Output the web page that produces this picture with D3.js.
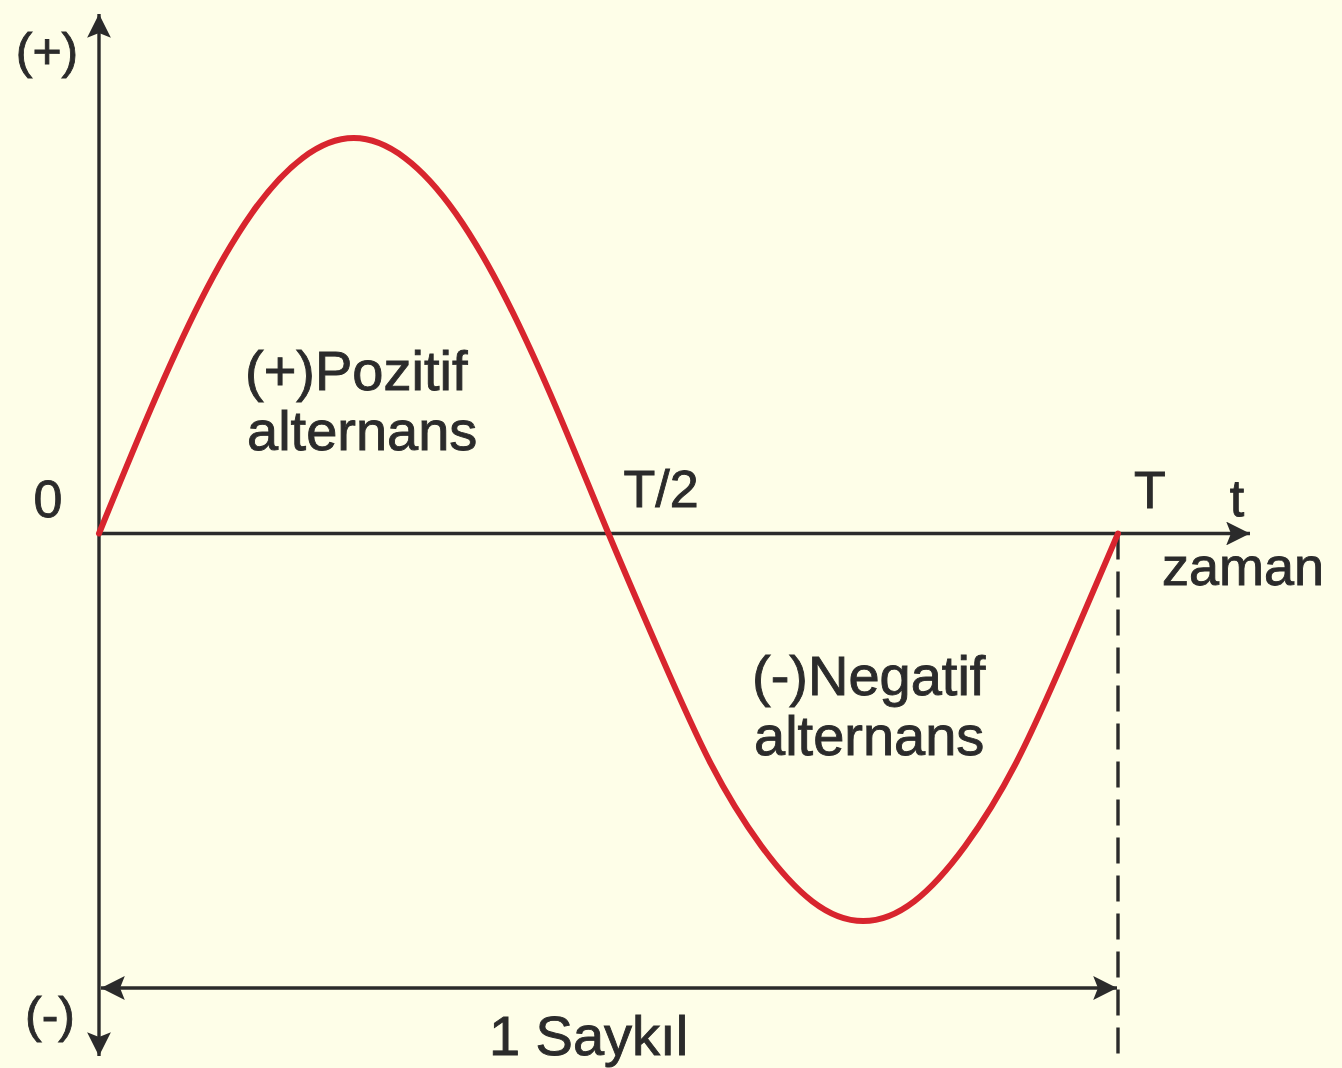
<!DOCTYPE html>
<html>
<head>
<meta charset="utf-8">
<script src="https://cdn.jsdelivr.net/npm/d3@7"></script>
<style>
  html, body { margin: 0; padding: 0; background: #fefee8; }
  svg { display: block; }
  text { font-family: "Liberation Sans", Arial, sans-serif; fill: #2b2b2b; stroke: #2b2b2b; stroke-width: 0.9px; }
</style>
</head>
<body>
<svg id="chart" width="1342" height="1068"></svg>
<script>
// Time as a fraction of one period T
const phase = [0, 0.05, 0.10, 0.15, 0.20, 0.25, 0.30, 0.35, 0.40, 0.45, 0.50,
               0.55, 0.60, 0.65, 0.70, 0.75, 0.80, 0.85, 0.90, 0.95, 1.00];
// Instantaneous value (relative to the peak)
const amplitude = [0, 0.31, 0.59, 0.81, 0.95, 1.00, 0.95, 0.81, 0.59, 0.31, 0,
                   -0.30, -0.58, -0.79, -0.93, -0.98, -0.93, -0.79, -0.58, -0.30, 0];
// Labels along the time axis
const timeTicks = [0, 0.5, 1];
const timeTickLabels = ["0", "T/2", "T"];
const halfLabels = [["(+)Pozitif", "alternans"], ["(-)Negatif", "alternans"]];

const svg = d3.select("#chart");
const ink = "#2b2b2b";
const red = "#d8252e";

const x = d3.scaleLinear().domain([0, 1]).range([99, 1118]);
const y = d3.scaleLinear().domain([-1, 1]).range([929, 138]);

const defs = svg.append("defs");
defs.append("marker")
  .attr("id", "arr")
  .attr("viewBox", "0 0 10 10")
  .attr("refX", 10).attr("refY", 5)
  .attr("markerWidth", 10).attr("markerHeight", 7)
  .attr("markerUnits", "strokeWidth")
  .attr("orient", "auto-start-reverse")
  .append("path")
  .attr("d", "M0,0 L10,5 L0,10 L2,5 Z")
  .attr("fill", ink);

// Vertical value axis with arrows at both ends
svg.append("line")
  .attr("x1", x(0)).attr("x2", x(0))
  .attr("y1", 14).attr("y2", 1056)
  .attr("stroke", ink).attr("stroke-width", 3.4)
  .attr("marker-start", "url(#arr)")
  .attr("marker-end", "url(#arr)");

// Time axis
svg.append("line")
  .attr("x1", x(0)).attr("x2", 1250)
  .attr("y1", y(0)).attr("y2", y(0))
  .attr("stroke", ink).attr("stroke-width", 3.4)
  .attr("marker-end", "url(#arr)");

// Dashed marker at the end of the period
svg.append("line")
  .attr("x1", x(1)).attr("x2", x(1))
  .attr("y1", y(0)).attr("y2", 1062)
  .attr("stroke", ink).attr("stroke-width", 3.4)
  .attr("stroke-dasharray", "26,12");

// Dimension line for one cycle
svg.append("line")
  .attr("x1", x(0) + 2).attr("x2", x(1) - 1)
  .attr("y1", 988).attr("y2", 988)
  .attr("stroke", ink).attr("stroke-width", 3.4)
  .attr("marker-start", "url(#arr)")
  .attr("marker-end", "url(#arr)");

// The waveform
const line = d3.line()
  .x((d, i) => x(phase[i]))
  .y(d => y(d))
  .curve(d3.curveNatural);
svg.append("path")
  .datum(amplitude)
  .attr("d", line)
  .attr("fill", "none")
  .attr("stroke", red)
  .attr("stroke-width", 6)
  .attr("stroke-linecap", "round");

// Time tick labels
const tickPos = [[48, 517], [x(0.5) + 14, 507], [x(1) + 15, 508]];
svg.selectAll("text.tick")
  .data(timeTicks)
  .join("text")
  .attr("class", "tick")
  .attr("x", (d, i) => i === 0 ? tickPos[0][0] : x(d) + (i === 1 ? 15 : 16))
  .attr("y", (d, i) => tickPos[i][1])
  .attr("text-anchor", (d, i) => i === 0 ? "middle" : "start")
  .attr("font-size", 52)
  .text((d, i) => timeTickLabels[i]);

// Axis names
svg.append("text").attr("x", 1237).attr("y", 516).attr("text-anchor", "middle")
  .attr("font-size", 52).text("t");
svg.append("text").attr("x", 1243).attr("y", 585).attr("text-anchor", "middle")
  .attr("font-size", 54).text("zaman");
svg.append("text").attr("x", 47).attr("y", 68).attr("text-anchor", "middle")
  .attr("font-size", 50).text("(+)");
svg.append("text").attr("x", 50).attr("y", 1032).attr("text-anchor", "middle")
  .attr("font-size", 50).text("(-)");
svg.append("text").attr("x", (x(0) + x(1)) / 2 - 20).attr("y", 1055).attr("text-anchor", "middle")
  .attr("font-size", 56).text("1 Saykıl");

// Half-cycle annotations
const halfPos = [[245, 390], [752, 695]];
halfLabels.forEach((lines, k) => {
  lines.forEach((s, j) => {
    svg.append("text")
      .attr("x", halfPos[k][0] + (j === 1 ? 2 : 0))
      .attr("y", halfPos[k][1] + j * 60)
      .attr("font-size", 56)
      .text(s);
  });
});
</script>
</body>
</html>
